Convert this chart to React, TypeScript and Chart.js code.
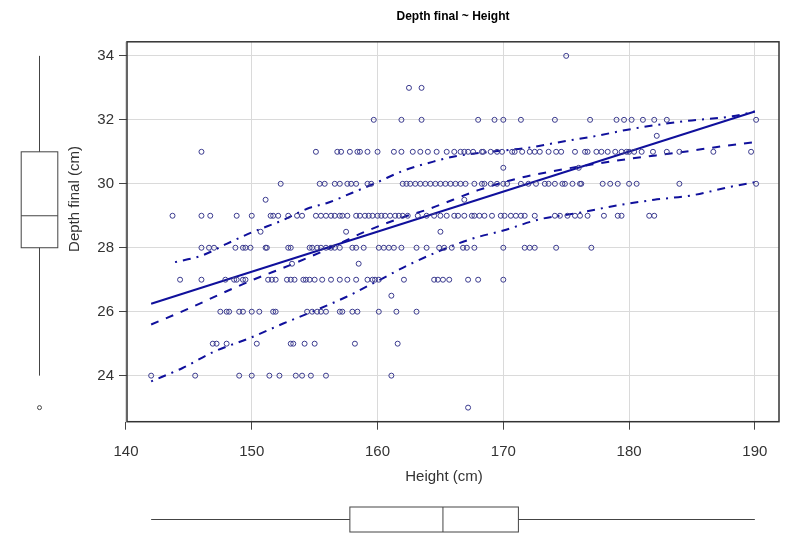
import React, { useEffect, useRef } from "react";
import { Chart, registerables } from "chart.js";

Chart.register(...registerables);

const TITLE = "Depth final ~ Height";
const X_LABEL = "Height (cm)";
const Y_LABEL = "Depth final (cm)";

const xTicks = [140, 150, 160, 170, 180, 190];
const yTicks = [24, 26, 28, 30, 32, 34];
const X_MIN = 140.08;
const X_MAX = 191.92;
const Y_MIN = 22.56;
const Y_MAX = 34.44;

// Heights (cm) of the observations, grouped by their Depth final (cm)
const heightsAt23 = [167.2];
const heightsAt24 = [142, 145.5, 149, 150, 151.4, 152.2, 153.5, 154, 154.7, 155.9, 161.1];
const heightsAt25 = [146.9, 147.2, 148, 150.4, 153.1, 153.3, 154.2, 155, 158.2, 161.6];
const heightsAt26 = [147.5, 148, 148.2, 149, 149.3, 150, 150.6, 151.7, 151.9, 154.4, 154.8, 155.2, 155.5, 155.9, 157, 157.2, 158, 158.4, 160.1, 161.5, 163.1];
const heightsAt26h = [161.1];
const heightsAt27 = [144.3, 146, 147.9, 148.6, 148.8, 149.3, 149.5, 151.3, 151.6, 151.9, 152.8, 153.1, 153.4, 154.1, 154.3, 154.6, 155, 155.6, 156.3, 157, 157.6, 158.3, 159.2, 159.6, 159.8, 160.1, 162.1, 164.5, 164.8, 165.2, 165.7, 167.2, 168, 170];
const heightsAt27h = [153.2, 158.5];
const heightsAt28 = [146, 146.6, 147, 148.7, 149.3, 149.5, 149.9, 151.1, 151.2, 152.9, 153.1, 154.6, 154.8, 155.2, 155.5, 155.9, 156.3, 156.6, 157, 158, 158.3, 158.9, 160.1, 160.5, 160.9, 161.3, 161.9, 163.1, 163.9, 164.9, 165.3, 165.9, 166.8, 167.1, 167.7, 170, 171.7, 172.1, 172.5, 174.2, 177];
const heightsAt28h = [150.7, 157.5, 165];
const heightsAt29 = [143.7, 146, 146.7, 148.8, 150, 151.5, 151.7, 152.1, 152.9, 153.6, 154, 155.1, 155.5, 155.9, 156.3, 156.6, 157, 157.2, 157.6, 158.3, 158.6, 159, 159.3, 159.6, 160, 160.3, 160.6, 161, 161.4, 161.7, 162, 162.4, 163.2, 163.9, 164.5, 165, 165.5, 166.1, 166.4, 166.9, 167.5, 167.7, 168.1, 168.5, 169.1, 169.8, 170.1, 170.6, 171, 171.4, 171.7, 172.5, 174.1, 174.5, 175.1, 175.7, 176.1, 176.7, 178, 179.1, 179.4, 181.6, 182];
const heightsAt29h = [151.1, 166.9];
const heightsAt30 = [152.3, 155.4, 155.8, 156.6, 157, 157.6, 157.9, 158.3, 159.2, 159.5, 162, 162.3, 162.6, 163, 163.4, 163.8, 164.2, 164.6, 165, 165.4, 165.8, 166.2, 166.6, 167, 167.7, 168.3, 168.5, 169, 169.5, 170, 170.3, 171.4, 172, 172.6, 173.3, 173.6, 174.1, 174.7, 174.9, 175.5, 176.1, 176.2, 177.9, 178.5, 179.1, 180, 180.6, 184, 190.1];
const heightsAt30h = [170, 176];
const heightsAt31 = [146, 155.1, 156.8, 157.1, 157.8, 158.4, 158.6, 159.2, 160, 161.3, 161.9, 162.8, 163.4, 164, 164.7, 165.5, 166.1, 166.6, 166.9, 167.2, 167.6, 168.3, 168.4, 169, 169.5, 169.9, 170.7, 170.9, 171.5, 172.1, 172.5, 172.9, 173.6, 174.2, 174.6, 175.7, 176.5, 176.7, 177.4, 177.8, 178.3, 178.9, 179.4, 179.8, 180, 180.4, 181, 181.9, 183, 184, 186.7, 189.7];
const heightsAt31h = [182.2];
const heightsAt32 = [159.7, 161.9, 163.5, 168, 169.3, 170, 171.4, 174.1, 176.9, 179, 179.6, 180.2, 181.1, 182, 183, 190.1];
const heightsAt33 = [162.5, 163.5];
const heightsAt34 = [175];

const depthRows: [number, number[]][] = [
  [23, heightsAt23], [24, heightsAt24], [25, heightsAt25], [26, heightsAt26],
  [26.5, heightsAt26h], [27, heightsAt27], [27.5, heightsAt27h], [28, heightsAt28],
  [28.5, heightsAt28h], [29, heightsAt29], [29.5, heightsAt29h], [30, heightsAt30],
  [30.5, heightsAt30h], [31, heightsAt31], [31.5, heightsAt31h], [32, heightsAt32],
  [33, heightsAt33], [34, heightsAt34],
];

// Linear fit (solid)
const fitX = [142, 190];
const fitY = [26.25, 32.26];
// Smooth (dashed)
const smoothX = [142, 145, 147.5, 150, 153, 156, 159, 162, 164, 166, 168, 171, 174, 177, 180, 184, 187, 190];
const smoothY = [25.6, 26.1, 26.55, 26.98, 27.45, 27.95, 28.5, 28.95, 29.2, 29.5, 29.8, 30.15, 30.4, 30.6, 30.78, 30.98, 31.15, 31.3];
// Upper spread (dot-dash)
const upperX = [143.9, 146, 148, 150, 152.4, 154.6, 156, 158, 160, 162, 164.6, 166.3, 169, 172, 175, 177.3, 180, 184.4, 188.2, 190];
const upperY = [27.55, 27.75, 28.12, 28.48, 28.85, 29.25, 29.4, 29.72, 30.05, 30.4, 30.71, 30.87, 31.0, 31.13, 31.34, 31.49, 31.7, 31.96, 32.11, 32.26];
// Lower spread (dot-dash)
const lowerX = [142, 144.5, 147, 150, 152.5, 155, 157.5, 160, 162.5, 165, 167.5, 170, 173, 176, 179, 182, 185, 188, 190];
const lowerY = [23.82, 24.24, 24.75, 25.2, 25.63, 26.03, 26.46, 26.96, 27.47, 27.91, 28.28, 28.54, 28.9, 29.09, 29.32, 29.5, 29.64, 29.9, 30.05];

// Marginal boxplots: [lower whisker, Q1, median, Q3, upper whisker]
const heightBoxStats = [142, 157.8, 165.2, 171.2, 190];
const depthBoxStats = [24, 28, 29, 31, 34];
const depthOutliers = [23];

const FONT = "'Liberation Sans', Arial, sans-serif";
const LINE_COLOR = "#10109c";
const POINT_COLOR = "#3a3a8e";
const AXIS_COLOR = "#333333";

const toXY = (xs: number[], ys: number[]) => xs.map((x, i) => ({ x, y: ys[i] }));

const framePlugin = {
  id: "frameAndMargins",
  afterDraw(chart: any) {
    const { ctx, chartArea: a, scales } = chart;
    const xs = scales.x;
    const ys = scales.y;
    ctx.save();
    // plot frame
    ctx.strokeStyle = AXIS_COLOR;
    ctx.lineWidth = 1.5;
    ctx.strokeRect(a.left, a.top, a.right - a.left, a.bottom - a.top);

    ctx.lineWidth = 1;
    ctx.strokeStyle = "#444444";
    // left (depth) boxplot
    const cx = 39.5;
    const hw = 18.3;
    const [dMin, dQ1, dMed, dQ3, dMax] = depthBoxStats.map((v) => ys.getPixelForValue(v));
    ctx.beginPath();
    ctx.moveTo(cx, dMax); ctx.lineTo(cx, dQ3);
    ctx.moveTo(cx, dQ1); ctx.lineTo(cx, dMin);
    ctx.moveTo(cx - hw, dMed); ctx.lineTo(cx + hw, dMed);
    ctx.stroke();
    ctx.strokeRect(cx - hw, dQ3, hw * 2, dQ1 - dQ3);
    depthOutliers.forEach((v) => {
      ctx.beginPath();
      ctx.arc(cx, ys.getPixelForValue(v), 2, 0, Math.PI * 2);
      ctx.stroke();
    });

    // bottom (height) boxplot
    const cy = 519.5;
    const hh = 12.5;
    const [hMin, hQ1, hMed, hQ3, hMax] = heightBoxStats.map((v) => xs.getPixelForValue(v));
    ctx.beginPath();
    ctx.moveTo(hMin, cy); ctx.lineTo(hQ1, cy);
    ctx.moveTo(hQ3, cy); ctx.lineTo(hMax, cy);
    ctx.moveTo(hMed, cy - hh); ctx.lineTo(hMed, cy + hh);
    ctx.stroke();
    ctx.strokeRect(hQ1, cy - hh, hQ3 - hQ1, hh * 2);

    // axis titles
    ctx.fillStyle = AXIS_COLOR;
    ctx.font = `15px ${FONT}`;
    ctx.textAlign = "center";
    ctx.textBaseline = "middle";
    ctx.fillText(X_LABEL, 444, 477);
    ctx.translate(75, 199);
    ctx.rotate(-Math.PI / 2);
    ctx.fillText(Y_LABEL, 0, 0);
    ctx.restore();
  },
};

export default function App() {
  const ref = useRef<HTMLCanvasElement | null>(null);

  useEffect(() => {
    if (!ref.current) return;
    const points: { x: number; y: number }[] = [];
    depthRows.forEach(([depth, heights]) => heights.forEach((h) => points.push({ x: h, y: depth })));

    const lineBase = {
      type: "line" as const,
      borderColor: LINE_COLOR,
      borderWidth: 2,
      pointRadius: 0,
      fill: false,
      showLine: true,
      cubicInterpolationMode: "monotone" as const,
    };

    const chart = new Chart(ref.current, {
      type: "scatter",
      data: {
        datasets: [
          {
            label: "observations",
            data: points,
            pointRadius: 2.5,
            pointBorderWidth: 1,
            pointBorderColor: POINT_COLOR,
            pointBackgroundColor: "rgba(0,0,0,0)",
            borderColor: POINT_COLOR,
            backgroundColor: "rgba(0,0,0,0)",
          },
          { ...lineBase, label: "fit", data: toXY(fitX, fitY) },
          { ...lineBase, label: "smooth", data: toXY(smoothX, smoothY), borderDash: [8, 8] },
          { ...lineBase, label: "upper", data: toXY(upperX, upperY), borderDash: [2, 6, 8, 6] },
          { ...lineBase, label: "lower", data: toXY(lowerX, lowerY), borderDash: [2, 6, 8, 6] },
        ] as any,
      },
      options: {
        animation: false,
        responsive: false,
        devicePixelRatio: 1,
        layout: { padding: { left: 0, right: 15, top: 0, bottom: 52.3 } },
        plugins: {
          legend: { display: false },
          tooltip: { enabled: false },
          title: {
            display: true,
            text: TITLE,
            fullSize: false,
            color: "#000000",
            font: { family: FONT, size: 12, weight: "bold" },
            padding: { top: 9, bottom: 18.4 },
          },
        },
        scales: {
          x: {
            type: "linear",
            min: X_MIN,
            max: X_MAX,
            afterBuildTicks: (s: any) => { s.ticks = xTicks.map((v) => ({ value: v })); },
            afterFit: (s: any) => { s.height = 70; },
            ticks: {
              color: AXIS_COLOR,
              font: { family: FONT, size: 15 },
              padding: 13,
              maxRotation: 0,
              autoSkip: false,
              callback: (v: any) => String(v),
            },
            grid: { color: "#dadada", tickColor: "#444444", tickLength: 8, lineWidth: 1 },
            border: { display: false },
          },
          y: {
            type: "linear",
            min: Y_MIN,
            max: Y_MAX,
            afterBuildTicks: (s: any) => { s.ticks = yTicks.map((v) => ({ value: v })); },
            afterFit: (s: any) => { s.width = 127; },
            ticks: {
              color: AXIS_COLOR,
              font: { family: FONT, size: 15 },
              padding: 5,
              autoSkip: false,
              callback: (v: any) => String(v),
            },
            grid: { color: "#dadada", tickColor: "#444444", tickLength: 8, lineWidth: 1 },
            border: { display: false },
          },
        },
      } as any,
      plugins: [framePlugin],
    });
    return () => chart.destroy();
  }, []);

  return (
    <div style={{ position: "fixed", left: 0, top: 0, width: 794, height: 544, background: "#ffffff" }}>
      <canvas ref={ref} width={794} height={544} style={{ width: 794, height: 544, display: "block" }} />
    </div>
  );
}
